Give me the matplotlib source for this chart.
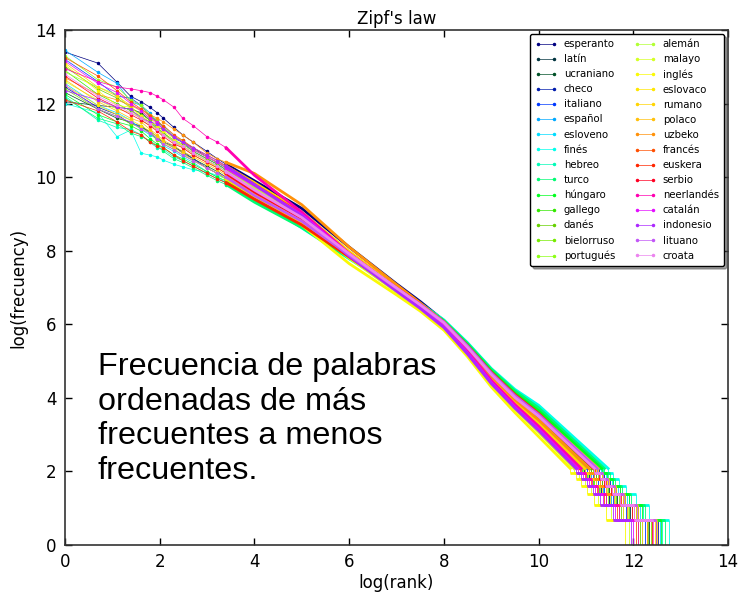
import numpy as np
import matplotlib.pyplot as plt

LANGS = ['esperanto', 'latín', 'ucraniano', 'checo', 'italiano', 'español',
         'esloveno', 'finés', 'hebreo', 'turco', 'húngaro', 'gallego',
         'danés', 'bielorruso', 'portugués', 'alemán', 'malayo', 'inglés',
         'eslovaco', 'rumano', 'polaco', 'uzbeko', 'francés', 'euskera',
         'serbio', 'neerlandés', 'catalán', 'indonesio', 'lituano', 'croata']

# most frequent words: rank -> log(frequency)
HEAD_RANKS = [1, 2, 3, 4, 5, 6, 7, 8, 10, 12, 15, 20, 25, 30]
HEAD_Y = [
    [13.40, 13.10, 12.58, 12.20, 12.05, 11.90, 11.75, 11.60, 11.35, 11.15, 10.95, 10.70, 10.50, 10.35],
    [12.05, 11.95, 11.90, 11.85, 11.75, 11.55, 11.35, 11.30, 11.10, 10.95, 10.80, 10.55, 10.40, 10.25],
    [12.30, 11.85, 11.60, 11.50, 11.35, 11.25, 11.10, 10.95, 10.80, 10.70, 10.50, 10.30, 10.15, 10.00],
    [12.45, 11.90, 11.70, 11.45, 11.40, 11.20, 11.05, 10.95, 10.85, 10.65, 10.50, 10.25, 10.10, 9.95],
    [13.20, 12.60, 12.20, 12.15, 11.95, 11.65, 11.55, 11.35, 11.05, 10.95, 10.70, 10.50, 10.35, 10.20],
    [13.45, 12.85, 12.55, 12.05, 11.95, 11.75, 11.45, 11.40, 11.10, 10.95, 10.75, 10.55, 10.40, 10.25],
    [12.55, 11.95, 11.75, 11.55, 11.30, 11.15, 11.05, 10.85, 10.70, 10.55, 10.40, 10.15, 10.00, 9.85],
    [12.00, 11.75, 11.10, 11.28, 10.65, 10.60, 10.55, 10.46, 10.35, 10.28, 10.20, 10.14, 10.05, 9.95],
    [12.20, 11.55, 11.35, 11.30, 11.15, 10.95, 10.80, 10.75, 10.55, 10.45, 10.30, 10.10, 9.95, 9.85],
    [12.15, 11.60, 11.45, 11.20, 11.10, 11.00, 10.85, 10.70, 10.50, 10.40, 10.25, 10.05, 9.90, 9.80],
    [12.25, 11.70, 11.50, 11.40, 11.25, 11.05, 10.90, 10.80, 10.60, 10.50, 10.35, 10.15, 10.00, 9.90],
    [12.90, 12.25, 12.00, 11.80, 11.65, 11.50, 11.30, 11.20, 10.95, 10.85, 10.65, 10.45, 10.30, 10.15],
    [13.00, 12.40, 12.15, 11.90, 11.70, 11.55, 11.35, 11.20, 11.00, 10.90, 10.70, 10.50, 10.35, 10.20],
    [12.40, 11.85, 11.65, 11.45, 11.35, 11.20, 11.00, 10.90, 10.75, 10.60, 10.45, 10.25, 10.10, 9.95],
    [13.30, 12.65, 12.45, 12.10, 11.95, 11.70, 11.55, 11.35, 11.10, 11.00, 10.75, 10.55, 10.40, 10.25],
    [12.85, 12.45, 12.25, 11.85, 11.55, 11.40, 11.30, 11.15, 11.00, 10.85, 10.65, 10.45, 10.30, 10.15],
    [12.60, 12.10, 11.85, 11.75, 11.60, 11.45, 11.30, 11.15, 10.95, 10.80, 10.60, 10.40, 10.25, 10.10],
    [13.05, 12.35, 11.95, 11.90, 11.65, 11.50, 11.40, 11.25, 11.05, 10.85, 10.65, 10.45, 10.25, 10.10],
    [12.50, 11.95, 11.70, 11.55, 11.40, 11.25, 11.10, 10.95, 10.80, 10.65, 10.45, 10.25, 10.10, 9.95],
    [13.10, 12.45, 12.20, 11.95, 11.80, 11.60, 11.45, 11.30, 11.10, 10.95, 10.75, 10.55, 10.40, 10.30],
    [12.65, 12.05, 11.80, 11.60, 11.50, 11.30, 11.15, 11.00, 10.85, 10.70, 10.55, 10.35, 10.20, 10.05],
    [12.70, 12.25, 12.10, 11.95, 11.85, 11.70, 11.60, 11.50, 11.30, 11.15, 10.95, 10.65, 10.50, 10.40],
    [13.25, 12.75, 12.35, 12.05, 11.85, 11.65, 11.50, 11.40, 11.15, 11.00, 10.80, 10.60, 10.45, 10.30],
    [12.10, 11.80, 11.50, 11.25, 11.15, 10.95, 10.85, 10.80, 10.60, 10.45, 10.30, 10.10, 9.95, 9.85],
    [12.75, 12.15, 11.90, 11.70, 11.55, 11.40, 11.25, 11.10, 10.90, 10.80, 10.60, 10.40, 10.25, 10.10],
    [12.95, 12.60, 12.45, 12.40, 12.35, 12.30, 12.20, 12.10, 11.90, 11.60, 11.40, 11.10, 10.95, 10.80],
    [13.15, 12.55, 12.30, 12.00, 11.80, 11.60, 11.50, 11.30, 11.10, 10.95, 10.75, 10.55, 10.40, 10.25],
    [12.35, 12.10, 11.90, 11.85, 11.60, 11.50, 11.45, 11.30, 11.10, 10.95, 10.80, 10.60, 10.45, 10.30],
    [12.50, 11.85, 11.65, 11.50, 11.30, 11.20, 11.05, 10.90, 10.75, 10.60, 10.45, 10.25, 10.10, 10.00],
    [12.80, 12.20, 11.95, 11.75, 11.60, 11.45, 11.30, 11.15, 10.95, 10.85, 10.65, 10.45, 10.30, 10.15],
]

# middle of the curve: log(rank) -> log(frequency)
MID_LOGRANK = [4.0, 5.0, 6.0, 7.0, 7.5, 8.0, 8.5, 9.0, 9.5, 10.0]
MID_Y = [
    [9.90, 9.15, 8.10, 7.10, 6.62, 6.10, 5.40, 4.62, 3.97, 3.43],
    [9.75, 8.95, 7.95, 7.00, 6.55, 6.05, 5.35, 4.58, 3.95, 3.43],
    [9.55, 8.85, 7.90, 6.98, 6.53, 6.05, 5.38, 4.65, 4.03, 3.50],
    [9.50, 8.80, 7.88, 6.97, 6.52, 6.04, 5.36, 4.63, 4.01, 3.47],
    [9.75, 9.00, 7.95, 7.02, 6.55, 6.03, 5.32, 4.53, 3.87, 3.30],
    [9.78, 8.98, 7.92, 7.00, 6.53, 6.02, 5.32, 4.54, 3.88, 3.31],
    [9.40, 8.70, 7.82, 6.95, 6.52, 6.05, 5.40, 4.68, 4.07, 3.55],
    [9.45, 8.62, 7.78, 6.98, 6.57, 6.12, 5.50, 4.80, 4.23, 3.80],
    [9.35, 8.65, 7.80, 6.96, 6.54, 6.08, 5.45, 4.75, 4.15, 3.67],
    [9.32, 8.63, 7.80, 6.97, 6.56, 6.10, 5.48, 4.78, 4.19, 3.73],
    [9.40, 8.70, 7.83, 6.97, 6.55, 6.08, 5.44, 4.73, 4.13, 3.65],
    [9.65, 8.90, 7.88, 6.95, 6.48, 5.96, 5.25, 4.46, 3.80, 3.20],
    [9.70, 8.95, 7.93, 7.00, 6.54, 6.04, 5.35, 4.58, 3.95, 3.40],
    [9.50, 8.78, 7.87, 6.97, 6.53, 6.05, 5.38, 4.64, 4.02, 3.50],
    [9.75, 8.98, 7.93, 6.99, 6.51, 5.99, 5.28, 4.49, 3.83, 3.25],
    [9.70, 8.95, 7.95, 7.00, 6.54, 6.03, 5.33, 4.56, 3.91, 3.35],
    [9.60, 8.82, 7.80, 6.88, 6.42, 5.90, 5.18, 4.38, 3.70, 3.07],
    [9.55, 8.70, 7.65, 6.80, 6.36, 5.84, 5.12, 4.30, 3.60, 2.95],
    [9.48, 8.78, 7.88, 6.98, 6.54, 6.06, 5.40, 4.67, 4.05, 3.55],
    [9.85, 9.05, 7.98, 7.02, 6.54, 6.02, 5.31, 4.53, 3.87, 3.30],
    [9.55, 8.83, 7.90, 6.98, 6.54, 6.06, 5.40, 4.68, 4.06, 3.55],
    [10.10, 9.25, 8.10, 7.08, 6.58, 6.06, 5.36, 4.60, 3.95, 3.40],
    [9.80, 9.00, 7.92, 6.96, 6.48, 5.95, 5.23, 4.44, 3.77, 3.17],
    [9.40, 8.70, 7.83, 6.96, 6.53, 6.06, 5.42, 4.70, 4.09, 3.58],
    [9.60, 8.88, 7.92, 6.99, 6.54, 6.05, 5.38, 4.65, 4.03, 3.51],
    [10.05, 9.05, 7.92, 6.97, 6.50, 5.98, 5.27, 4.48, 3.82, 3.23],
    [9.78, 8.98, 7.90, 6.95, 6.47, 5.94, 5.22, 4.42, 3.75, 3.15],
    [9.80, 8.95, 7.85, 6.90, 6.43, 5.91, 5.19, 4.39, 3.72, 3.11],
    [9.50, 8.80, 7.88, 6.98, 6.54, 6.06, 5.41, 4.68, 4.06, 3.55],
    [9.65, 8.90, 7.92, 6.99, 6.53, 6.04, 5.37, 4.64, 4.01, 3.50],
]

# rare words: frequency levels and log(rank) where each level ends
TAIL_FREQS = [8, 7, 6, 5, 4, 3, 2, 1]
TAIL_X = [
    [10.95, 11.06, 11.18, 11.31, 11.48, 11.75, 12.15],
    [11.11, 11.22, 11.34, 11.48, 11.65, 11.93, 12.33],
    [11.23, 11.34, 11.46, 11.60, 11.79, 12.06, 12.47],
    [11.27, 11.38, 11.50, 11.64, 11.83, 12.11, 12.52],
    [11.03, 11.14, 11.26, 11.39, 11.57, 11.84, 12.24],
    [10.99, 11.10, 11.22, 11.35, 11.52, 11.79, 12.19],
    [11.31, 11.42, 11.54, 11.68, 11.87, 12.15, 12.56],
    [11.47, 11.58, 11.70, 11.85, 12.05, 12.33, 12.75],
    [11.35, 11.46, 11.58, 11.73, 11.92, 12.20, 12.61],
    [11.39, 11.50, 11.62, 11.77, 11.96, 12.24, 12.66],
    [11.33, 11.45, 11.57, 11.72, 11.90, 12.18, 12.59],
    [10.91, 11.02, 11.14, 11.27, 11.43, 11.70, 12.10],
    [11.10, 11.21, 11.33, 11.47, 11.64, 11.92, 12.32],
    [11.15, 11.26, 11.38, 11.52, 11.70, 11.97, 12.38],
    [10.94, 11.05, 11.17, 11.30, 11.47, 11.74, 12.14],
    [11.07, 11.18, 11.30, 11.44, 11.61, 11.88, 12.29],
    [10.75, 10.86, 10.98, 11.10, 11.26, 11.52, 11.91],
    [10.67, 10.78, 10.90, 11.02, 11.17, 11.43, 11.82],
    [11.22, 11.33, 11.45, 11.59, 11.78, 12.05, 12.46],
    [10.98, 11.09, 11.21, 11.34, 11.51, 11.78, 12.18],
    [11.26, 11.37, 11.49, 11.63, 11.82, 12.10, 12.51],
    [11.06, 11.17, 11.29, 11.43, 11.60, 11.87, 12.28],
    [10.87, 10.98, 11.10, 11.23, 11.39, 11.66, 12.05],
    [11.19, 11.30, 11.42, 11.56, 11.74, 12.02, 12.42],
    [11.16, 11.27, 11.39, 11.53, 11.71, 11.98, 12.39],
    [10.90, 11.01, 11.13, 11.26, 11.42, 11.69, 12.09],
    [10.83, 10.94, 11.06, 11.19, 11.35, 11.61, 12.00],
    [10.79, 10.90, 11.02, 11.14, 11.30, 11.57, 11.96],
    [11.24, 11.35, 11.47, 11.61, 11.80, 12.07, 12.48],
    [11.18, 11.29, 11.41, 11.55, 11.73, 12.01, 12.41],
]

NOTE = 'Frecuencia de palabras\nordenadas de más\nfrecuentes a menos\nfrecuentes.'

fig, ax = plt.subplots(figsize=(7.4, 5.95), dpi=100)
fig.subplots_adjust(left=65 / 740, right=728 / 740, bottom=1 - 545 / 595, top=1 - 30 / 595)

colors = plt.cm.gist_ncar(np.linspace(0, 0.9, len(LANGS)))
levels = np.log(TAIL_FREQS)

for i, lang in enumerate(LANGS):
    c = colors[i]
    hx = np.log(HEAD_RANKS)
    ax.plot(hx, HEAD_Y[i], '.-', color=c, lw=0.5, ms=3, label=lang)
    # dense part of the curve
    mx = [hx[-1]] + MID_LOGRANK + [TAIL_X[i][0]]
    my = [HEAD_Y[i][-1]] + MID_Y[i] + [levels[0]]
    ax.plot(mx, my, '-', color=c, lw=2.0)
    # stepped tail: flat runs of equal frequency, thin drops between them
    tx = np.array(TAIL_X[i])
    ax.hlines(levels[1:-1], tx[:-1], tx[1:], color=c, lw=2.0)
    ax.vlines(tx, levels[1:], levels[:-1], color=c, lw=0.6)

ax.set_xlim(0, 14)
ax.set_ylim(0, 14)
ax.set_xticks(range(0, 15, 2))
ax.set_yticks(range(0, 15, 2))
ax.tick_params(direction='in', top=True, right=True, length=5, width=1,
               labelsize=12, pad=6)
for sp in ax.spines.values():
    sp.set_color('#333333')
    sp.set_linewidth(1.2)

ax.set_title("Zipf's law", fontsize=12, pad=4)
ax.set_xlabel('log(rank)', fontsize=12, labelpad=2)
ax.set_ylabel('log(frecuency)', fontsize=12, labelpad=6)

leg = ax.legend(loc='upper right', ncol=2, fontsize=7.3, numpoints=2,
                shadow=True, fancybox=True, framealpha=1,
                handlelength=2.1, handletextpad=0.7, columnspacing=1.9,
                labelspacing=0.5, borderpad=0.5, borderaxespad=0.4)
leg.get_frame().set_edgecolor('black')

fig.text(98 / 740, 1 - 352 / 595, NOTE, fontsize=23.3, family='Liberation Sans',
         va='top', ha='left')

fig.savefig('out.png', dpi=100)
